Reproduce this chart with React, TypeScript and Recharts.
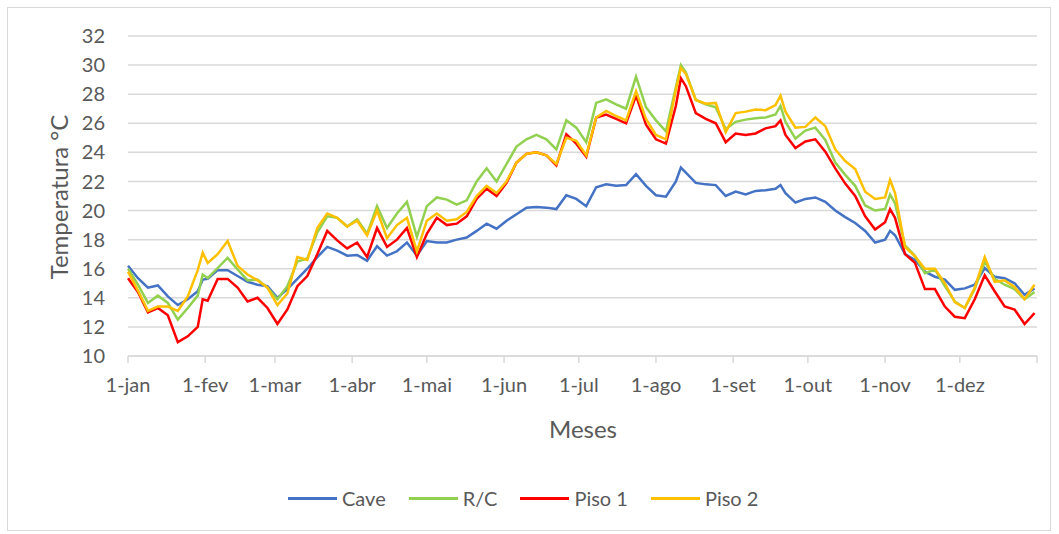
import React from 'react';
import { LineChart, Line, XAxis, YAxis, CartesianGrid } from 'recharts';

// day of the year (0 = 1-jan) at which each value was read
const days = [
  0, 4, 8, 12, 16, 20, 24, 28, 30, 32, 36, 40, 44, 48, 52, 56, 60, 64, 68, 72, 76, 80, 84, 88,
  92, 96, 100, 104, 108, 112, 116, 120, 124, 128, 132, 136, 140, 144, 148, 152, 156, 160, 164,
  168, 172, 176, 180, 184, 188, 192, 196, 200, 204, 208, 212, 216, 220, 222, 224, 228, 232, 236,
  240, 244, 248, 252, 256, 260, 262, 264, 268, 272, 276, 280, 284, 288, 292, 296, 300, 304, 306,
  308, 312, 316, 320, 324, 328, 332, 336, 340, 344, 348, 352, 356, 360, 364,
];

const cave = [
  16.2, 15.35, 14.7, 14.85, 14.1, 13.5, 13.9, 14.45, 15.25, 15.3, 15.9, 15.9, 15.5, 15.1, 14.9, 14.8,
  14.0, 14.6, 15.3, 16.0, 16.8, 17.5, 17.25, 16.9, 16.95, 16.55, 17.55, 16.9, 17.2, 17.8, 16.9, 17.9,
  17.8, 17.8, 18.0, 18.15, 18.6, 19.1, 18.75, 19.3, 19.75, 20.2, 20.25, 20.2, 20.1, 21.05, 20.8, 20.3,
  21.6, 21.8, 21.7, 21.75, 22.5, 21.7, 21.05, 20.95, 22.0, 22.95, 22.6, 21.9, 21.8, 21.75, 21.0, 21.3,
  21.1, 21.35, 21.4, 21.5, 21.75, 21.2, 20.55, 20.8, 20.9, 20.6, 20.0, 19.55, 19.15, 18.6, 17.8, 18.0,
  18.6, 18.3, 17.0, 16.6, 15.8, 15.45, 15.25, 14.55, 14.65, 14.9, 16.05, 15.45, 15.35, 15.0, 14.2, 14.65,
];

const rc = [
  16.0, 14.9, 13.65, 14.15, 13.65, 12.5, 13.3, 14.15, 15.6, 15.35, 16.05, 16.75, 15.95, 15.2, 15.25, 14.7,
  13.9, 14.8, 16.5, 16.7, 18.5, 19.6, 19.5, 18.9, 19.4, 18.4, 20.3, 18.8, 19.8, 20.6, 18.2, 20.3,
  20.9, 20.75, 20.4, 20.7, 22.0, 22.9, 22.0, 23.2, 24.4, 24.9, 25.2, 24.9, 24.2, 26.2, 25.7, 24.7,
  27.4, 27.65, 27.3, 27.0, 29.2, 27.1, 26.2, 25.45, 28.5, 30.0, 29.5, 27.6, 27.3, 27.1, 25.6, 26.1,
  26.25, 26.35, 26.4, 26.6, 27.2, 26.1, 24.95, 25.5, 25.7, 24.85, 23.3, 22.45, 21.7, 20.35, 20.0, 20.1,
  21.1, 20.5, 17.6, 16.9, 15.7, 15.95, 14.8, 13.75, 13.3, 14.6, 16.5, 15.3, 14.9, 14.6, 13.9, 14.4,
];

const piso1 = [
  15.35, 14.4, 13.0, 13.3, 12.8, 10.95, 11.35, 12.0, 13.9, 13.8, 15.3, 15.3, 14.7, 13.75, 14.0, 13.3,
  12.2, 13.2, 14.8, 15.5, 17.0, 18.6, 17.95, 17.4, 17.8, 16.8, 18.8, 17.5, 18.0, 18.8, 16.8, 18.4,
  19.5, 19.0, 19.1, 19.6, 20.8, 21.5, 21.0, 21.9, 23.3, 23.9, 24.0, 23.8, 23.1, 25.25, 24.6, 23.7,
  26.4, 26.6, 26.3, 26.0, 27.9, 25.9, 24.9, 24.6, 27.2, 29.1, 28.55, 26.7, 26.3, 26.0, 24.7, 25.3,
  25.2, 25.3, 25.65, 25.8, 26.2, 25.2, 24.3, 24.75, 24.9, 24.05, 22.9, 21.85, 21.0, 19.6, 18.7, 19.2,
  20.1, 19.5, 17.0, 16.4, 14.6, 14.6, 13.4, 12.7, 12.6, 13.9, 15.55, 14.45, 13.4, 13.2, 12.2, 12.95,
];

const piso2 = [
  15.8, 14.5, 13.1, 13.4, 13.4, 13.1, 14.1, 15.9, 17.1, 16.4, 17.0, 17.9, 16.2, 15.6, 15.2, 14.7,
  13.5, 14.3, 16.8, 16.6, 18.8, 19.8, 19.5, 18.9, 19.3, 18.3, 20.0, 18.1, 19.0, 19.5, 17.2, 19.3,
  19.8, 19.3, 19.4, 19.9, 21.0, 21.7, 21.2, 22.0, 23.3, 23.9, 24.0, 23.8, 23.2, 25.0, 24.8, 23.8,
  26.4, 26.85, 26.5, 26.2, 28.2, 26.3, 25.2, 24.9, 28.3, 29.8, 29.4, 27.6, 27.35, 27.4, 25.4, 26.7,
  26.8, 26.95, 26.9, 27.25, 27.9, 26.8, 25.7, 25.75, 26.4, 25.8, 24.2, 23.4, 22.85, 21.3, 20.8, 20.9,
  22.1, 21.2, 17.5, 16.85, 16.0, 16.0, 15.0, 13.7, 13.3, 14.7, 16.8, 15.1, 15.2, 14.75, 13.9, 14.9,
];

// month starts (day of year) and their labels
const monthTicks = [0, 31, 59, 90, 120, 151, 181, 212, 243, 273, 304, 334, 365];
const monthLabels = ['1-jan', '1-fev', '1-mar', '1-abr', '1-mai', '1-jun', '1-jul', '1-ago', '1-set', '1-out', '1-nov', '1-dez', ''];
const tempTicks = [10, 12, 14, 16, 18, 20, 22, 24, 26, 28, 30, 32];

const series = [
  { key: 'cave', name: 'Cave', color: '#4472C4' },
  { key: 'rc', name: 'R/C', color: '#92D050' },
  { key: 'piso1', name: 'Piso 1', color: '#FF0000' },
  { key: 'piso2', name: 'Piso 2', color: '#FFC000' },
];

const data = days.map((d, i) => ({ day: d, cave: cave[i], rc: rc[i], piso1: piso1[i], piso2: piso2[i] }));

const FONT = 'Lato, sans-serif';
const TEXT = '#595959';
const GRID = '#d9d9d9';

export default function App() {
  return (
    <div style={{ position: 'absolute', left: 0, top: 0, width: 1059, height: 534, background: '#fff', fontFamily: FONT }}>
      <div style={{ position: 'absolute', left: 7, top: 7, width: 1044, height: 524, border: `1px solid ${GRID}`, boxSizing: 'border-box' }} />

      <LineChart width={1059} height={534} data={data} margin={{ top: 36, right: 22, bottom: 138, left: 68 }}>
        <CartesianGrid vertical={false} stroke={GRID} strokeWidth={1.5} />
        <XAxis
          dataKey="day"
          type="number"
          domain={[0, 365]}
          ticks={monthTicks}
          interval={0}
          height={40}
          tickFormatter={(v: number) => monthLabels[monthTicks.indexOf(v)] ?? ''}
          axisLine={{ stroke: GRID, strokeWidth: 1.5 }}
          tickLine={{ stroke: GRID, strokeWidth: 1.5 }}
          tickSize={7}
          tickMargin={15}
          tick={{ fill: TEXT, fontSize: 20, fontFamily: FONT }}
        />
        <YAxis
          domain={[10, 32]}
          ticks={tempTicks}
          interval={0}
          width={60}
          axisLine={false}
          tickLine={false}
          tickSize={0}
          tickMargin={23}
          tick={{ fill: TEXT, fontSize: 20, fontFamily: FONT }}
        />
        {series.map((s) => (
          <Line
            key={s.key}
            dataKey={s.key}
            name={s.name}
            type="linear"
            stroke={s.color}
            strokeWidth={2.5}
            dot={false}
            isAnimationActive={false}
          />
        ))}
      </LineChart>

      {/* axis titles */}
      <div style={{ position: 'absolute', left: 58, top: 197, transform: 'translate(-50%, -50%) rotate(-90deg)', fontSize: 24, color: TEXT, whiteSpace: 'nowrap' }}>
        Temperatura °C
      </div>
      <div style={{ position: 'absolute', left: 583, top: 428, transform: 'translate(-50%, -50%)', fontSize: 24, color: TEXT }}>
        Meses
      </div>

      {/* legend */}
      <div style={{ position: 'absolute', left: 288, top: 484, height: 28, display: 'flex', alignItems: 'center', gap: 23 }}>
        {series.map((s) => (
          <div key={s.key} style={{ display: 'flex', alignItems: 'center' }}>
            <div style={{ width: 49, height: 3, background: s.color, marginRight: 5 }} />
            <span style={{ fontSize: 20, color: TEXT }}>{s.name}</span>
          </div>
        ))}
      </div>
    </div>
  );
}
